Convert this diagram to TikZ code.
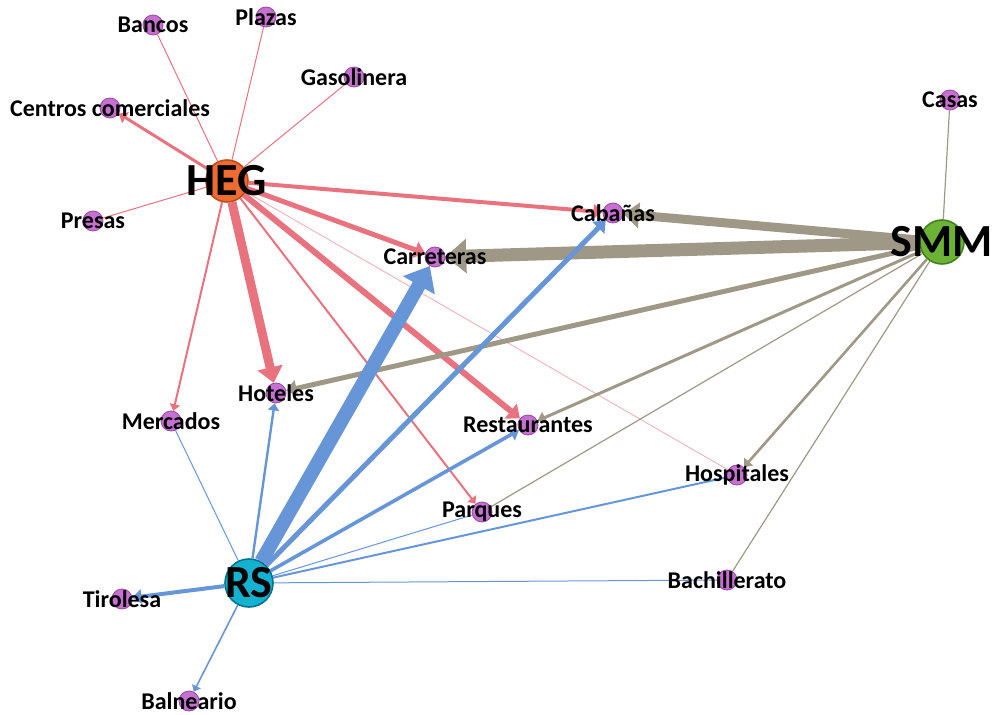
\documentclass[tikz,border=0pt]{standalone}
\usepackage{fontspec}
\setmainfont{Carlito}
\usetikzlibrary{arrows.meta, backgrounds}
\definecolor{cLeaf}{RGB}{200,112,210}
\definecolor{cLeafD}{RGB}{150,70,165}
\definecolor{cHeg}{RGB}{238,108,48}
\definecolor{cHegD}{RGB}{190,75,25}
\definecolor{cSmm}{RGB}{108,178,52}
\definecolor{cSmmD}{RGB}{65,130,30}
\definecolor{cRs}{RGB}{20,178,208}
\definecolor{cRsD}{RGB}{0,115,145}
\definecolor{cRed}{RGB}{232,114,126}
\definecolor{cGray}{RGB}{160,152,134}
\definecolor{cBlue}{RGB}{102,150,216}

\begin{document}
\begin{tikzpicture}[x=0.5pt, y=-0.5pt,
            leaf/.style={circle, draw=cLeafD, fill=cLeaf, minimum size=10pt, inner sep=0pt, line width=0.4pt},
            hub/.style={circle, minimum size=21pt, inner sep=0pt, line width=0.8pt},
            lab/.style={font=\bfseries\fontsize{12}{13}\selectfont},
            hlab/.style={font=\bfseries\fontsize{23}{25}\selectfont},
            ar/.style={-{Triangle[length=2pt 1.3, width=3pt 2.1]}},
            eR/.style={draw=cRed, line width=#1},
            eG/.style={draw=cGray, line width=#1},
            eB/.style={draw=cBlue, line width=#1}]
            \useasboundingbox (0,0) rectangle (994,715);
            % actores
            \node[hub, fill=cHeg, draw=cHegD, label={[hlab]center:HEG}] (heg) at (227,181) {};
            \node[hub, fill=cSmm, draw=cSmmD, minimum size=22pt, label={[hlab]center:SMM}] (smm) at (942,242) {};
            \node[hub, fill=cRs, draw=cRsD, minimum size=24pt, label={[hlab]center:RS}] (rs) at (249,583) {};
            % servicios
            \node[leaf, label={[lab]center:Bancos}] (ban) at (153,25) {};
            \node[leaf, label={[lab]center:Plazas}] (pla) at (266,17) {};
            \node[leaf, label={[lab]center:Gasolinera}] (gas) at (354,77) {};
            \node[leaf, label={[lab]center:Centros comerciales}] (cen) at (110,108) {};
            \node[leaf, label={[lab]center:Presas}] (pre) at (93,221) {};
            \node[leaf, label={[lab]center:Casas}] (cas) at (950,100) {};
            \node[leaf, label={[lab]center:Cabañas}] (cab) at (613,213) {};
            \node[leaf, label={[lab]center:Carreteras}] (car) at (435,257) {};
            \node[leaf, label={[lab]center:Hoteles}] (hot) at (276,393) {};
            \node[leaf, label={[lab]center:Mercados}] (mer) at (171,421) {};
            \node[leaf, label={[lab]center:Restaurantes}] (res) at (528,425) {};
            \node[leaf, label={[lab]center:Hospitales}] (hos) at (737,475) {};
            \node[leaf, label={[lab]center:Parques}] (par) at (482,512) {};
            \node[leaf, label={[lab]center:Bachillerato}] (bac) at (727,580) {};
            \node[leaf, label={[lab]center:Tirolesa}] (tir) at (122,599) {};
            \node[leaf, label={[lab]center:Balneario}] (bal) at (189,701) {};
            \begin{scope}[on background layer]
                % HEG
                \foreach \n in {ban,pla,gas,pre} { \draw[eR=0.5pt] (heg) -- (\n); }
                \draw[eR=0.4pt, draw=cRed!60] (heg) -- (hos);
                \draw[eR=1.5pt, ar] (heg) -- (cen);
                \draw[eR=2pt, ar] (heg) -- (cab);
                \draw[eR=2.5pt, ar] (heg) -- (car);
                \draw[eR=4.5pt, ar] (heg) -- (hot);
                \draw[eR=1pt, ar] (heg) -- (mer);
                \draw[eR=3pt, ar] (heg) -- (res);
                \draw[eR=1pt, ar] (heg) -- (par);
                % SMM
                \foreach \n in {cas,par,bac} { \draw[eG=0.6pt] (smm) -- (\n); }
                \draw[eG=4.5pt, ar] (smm) -- (cab);
                \draw[eG=6.5pt, ar] (smm) -- (car);
                \draw[eG=2.5pt, ar] (smm) -- (hot);
                \draw[eG=1.5pt, ar] (smm) -- (res);
                \draw[eG=1.3pt, ar] (smm) -- (hos);
                % RS
                \foreach \n in {mer,par,bac} { \draw[eB=0.5pt] (rs) -- (\n); }
                \draw[eB=1pt] (rs) -- (hos);
                \draw[eB=1.2pt, ar] (rs) -- (hot);
                \draw[eB=7pt, ar] (rs) -- (car);
                \draw[eB=2.5pt, ar] (rs) -- (cab);
                \draw[eB=1.8pt, ar] (rs) -- (res);
                \draw[eB=2pt, ar] (rs) -- (tir);
                \draw[eB=0.8pt, ar] (rs) -- (bal);
            \end{scope}
        \end{tikzpicture}
\end{document}
